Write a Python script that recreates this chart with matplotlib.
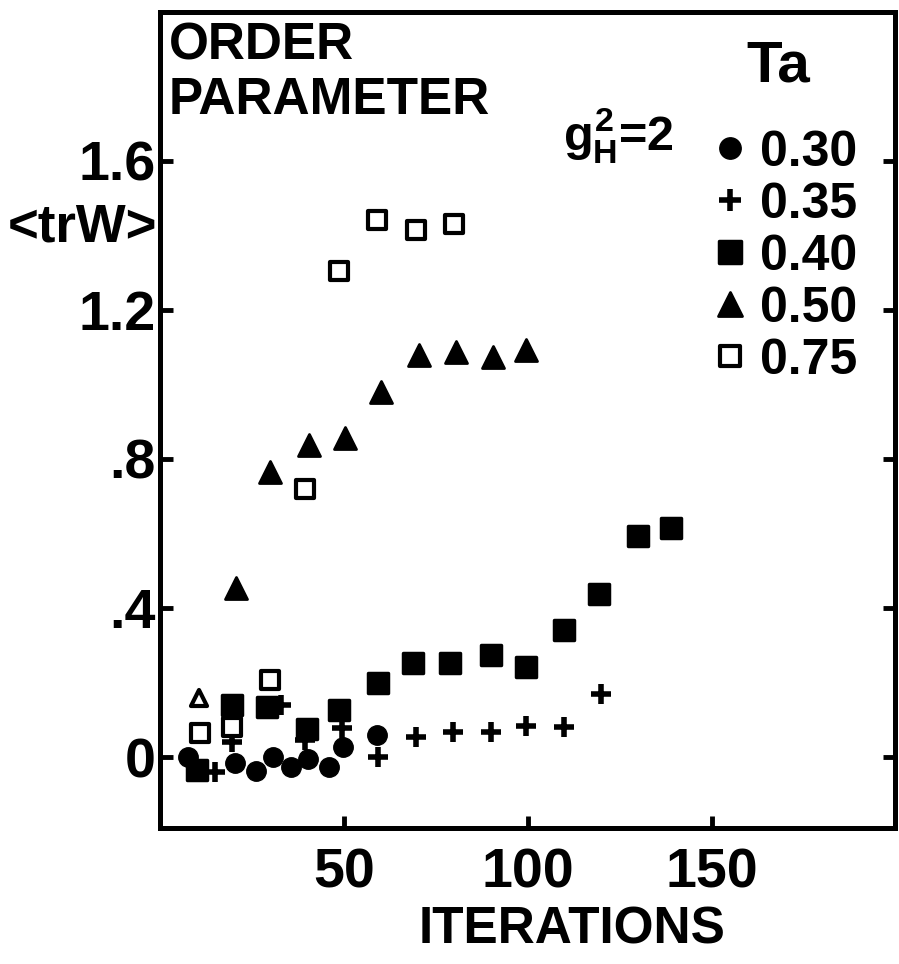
import matplotlib
import matplotlib.pyplot as plt
from matplotlib.markers import MarkerStyle

matplotlib.use('Agg')

plt.rcParams['font.family'] = ['Liberation Sans', 'DejaVu Sans']
plt.rcParams['font.weight'] = 'bold'
plt.rcParams['mathtext.fontset'] = 'custom'
plt.rcParams['mathtext.rm'] = 'Liberation Sans:bold'
plt.rcParams['mathtext.it'] = 'Liberation Sans:bold'

# Ta = 0.30 (filled circles)
ta030_x = [7.6, 20.4, 26.2, 30.8, 35.7, 40.3, 46.0, 49.9, 59.1]
ta030_y = [0.0, -0.016, -0.038, 0.0, -0.027, -0.005, -0.027, 0.027, 0.059]

# Ta = 0.35 (plus)
ta035_x = [15, 19.6, 33, 39.5, 49.6, 59.4, 69.5, 79.6, 90, 99.5, 109.8, 120]
ta035_y = [-0.04, 0.04, 0.14, 0.045, 0.078, 0.0, 0.054, 0.067, 0.067, 0.083, 0.08, 0.17]

# Ta = 0.40 (filled squares)
ta040_x = [10, 19.6, 29, 40, 48.8, 59.4, 68.7, 79, 90, 99.5, 110, 119.3, 130, 139]
ta040_y = [-0.035, 0.14, 0.135, 0.075, 0.126, 0.2, 0.252, 0.252, 0.274, 0.243,
           0.34, 0.437, 0.593, 0.615]

# Ta = 0.50 (filled triangles) + one open triangle
ta050_x = [20.7, 30, 40.6, 50.4, 60, 70.3, 80.4, 90.5, 99.5]
ta050_y = [0.454, 0.765, 0.838, 0.856, 0.98, 1.08, 1.087, 1.074, 1.093]
ta050_open_x = [10.6]
ta050_open_y = [0.16]

# Ta = 0.75 (open squares)
ta075_x = [10.9, 19.6, 30, 39.5, 48.8, 59.1, 69.5, 80]
ta075_y = [0.064, 0.08, 0.207, 0.72, 1.305, 1.44, 1.415, 1.43]

x_ticks = [50, 100, 150]
x_tick_labels = ['50', '100', '150']
y_ticks = [0, 0.4, 0.8, 1.2, 1.6]
y_tick_labels = ['0', '.4', '.8', '1.2', '1.6']

fig = plt.figure(figsize=(8.99, 9.64), dpi=100)
ax = fig.add_axes([0.178, 0.141, 0.818, 0.847])

rsq = MarkerStyle('s', joinstyle='round')
rtri = MarkerStyle('^', joinstyle='round')

ax.plot(ta030_x, ta030_y, 'o', ms=14, color='black', label='0.30')
ax.plot(ta035_x, ta035_y, '+', ms=15, mew=4, color='black', label='0.35')
ax.plot(ta040_x, ta040_y, marker=rsq, ls='none', ms=14, mew=2.5, color='black',
        label='0.40')
ax.plot(ta050_x, ta050_y, marker=rtri, ls='none', ms=16, mew=2, color='black',
        label='0.50')
ax.plot(ta050_open_x, ta050_open_y, marker=rtri, ls='none', ms=11, mew=3,
        mfc='white', mec='black')
ax.plot(ta075_x, ta075_y, marker=rsq, ls='none', ms=12.5, mew=3, mfc='white',
        mec='black', label='0.75')

ax.set_xlim(0, 200)
ax.set_ylim(-0.19, 2.0)
for s in ax.spines.values():
    s.set_linewidth(3.6)

ax.set_xticks(x_ticks)
ax.set_xticklabels(x_tick_labels, fontsize=40)
ax.set_yticks(y_ticks)
ax.set_yticklabels(y_tick_labels, fontsize=40)
ax.tick_params(direction='in', length=9, width=3.5, right=True)
ax.tick_params(axis='y', pad=3)
ax.tick_params(axis='x', pad=14)

ax.text(0.56, -0.125, 'ITERATIONS', transform=ax.transAxes, ha='center',
        va='center', fontsize=37)
ax.text(-0.004, 1.42, '<trW>', transform=ax.get_yaxis_transform(), ha='right',
        va='center', fontsize=38)

ax.text(0.012, 0.988, 'ORDER\nPARAMETER', transform=ax.transAxes, ha='left',
        va='top', fontsize=37, linespacing=1.15)
ax.text(0.548, 0.831, '$g_H^2$=2', transform=ax.transAxes, ha='left',
        va='baseline', fontsize=35)

# legend title placed as its own text, entries below it
ax.text(0.841, 0.933, 'Ta', transform=ax.transAxes, ha='center', va='center',
        fontsize=42)
leg = ax.legend(loc='upper right', bbox_to_anchor=(0.948, 0.855),
                frameon=False, fontsize=36, handlelength=0.6,
                handletextpad=0.3, labelspacing=0.12, borderpad=0,
                borderaxespad=0, markerscale=1.1)

fig.savefig('out.png', dpi=100)
